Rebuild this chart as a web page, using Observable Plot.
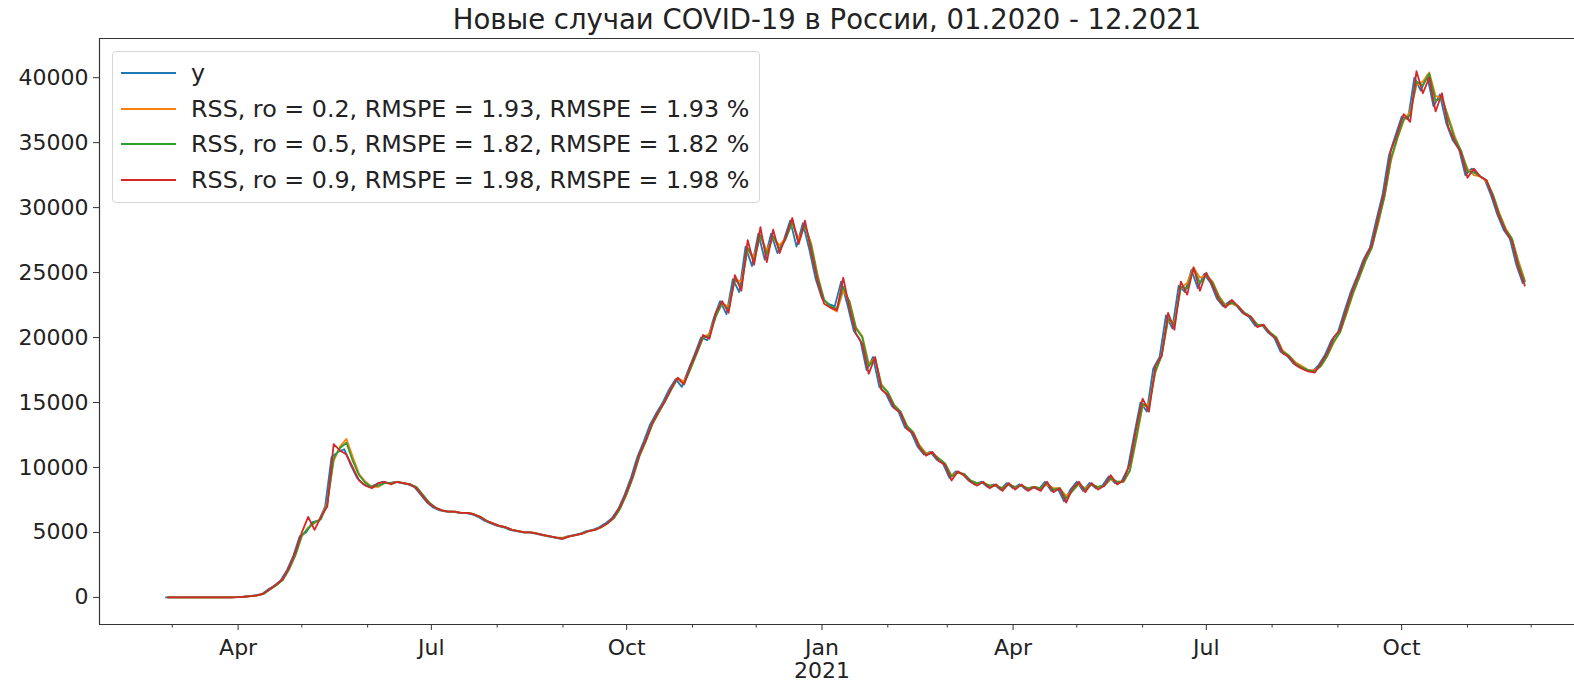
<!DOCTYPE html>
<html><head><meta charset="utf-8">
<script src="https://cdn.jsdelivr.net/npm/d3@7"></script>
<script src="https://cdn.jsdelivr.net/npm/@observablehq/plot@0.6"></script>
<style>
body{margin:0;background:#fff;}
#wrap{position:relative;width:1574px;height:686px;font-family:"DejaVu Sans",sans-serif;}
#legend{position:absolute;left:112px;top:51px;width:646px;height:150px;border:1px solid #d6d6d6;border-radius:4px;background:rgba(255,255,255,0.85);}
.row{position:absolute;left:0;height:30px;display:flex;align-items:center;font-size:23.8px;color:#222;white-space:nowrap;}
.row .h{width:55px;height:2px;margin-left:8px;margin-right:15px;}
</style></head>
<body><div id="wrap"><div id="legend"></div></div>
<script>
// ---- data (values every 3 days) ----
const startActual = "2020-02-27";
const startModels = "2020-02-28";
const stepDays = 3;

const yActual = [
0,0,0,0,0,0,0,0,0,0,
10,20,50,100,150,250,600,900,1300,2100,
3200,4700,5000,5800,5900,7000,10800,11200,11400,10200,
9200,8700,8500,8700,8900,8800,8900,8800,8700,8500,
7900,7300,6900,6700,6600,6600,6500,6500,6400,6200,
5900,5700,5500,5400,5200,5100,5000,5000,4900,4800,
4700,4600,4500,4700,4800,4900,5100,5200,5400,5700,
6100,6800,7900,9200,10800,12000,13300,14200,15000,16000,
16800,16200,17500,18700,20000,19800,21500,22800,21800,24500,
23500,27000,25500,28000,26000,28000,26500,27500,29000,27000,
28800,26800,24500,23000,22600,22400,24300,22500,20500,19800,
17500,18500,16200,15700,14700,14300,13100,12700,11600,11000,
11200,10600,10300,9200,9700,9500,9000,8700,8900,8500,
8700,8300,8800,8400,8700,8300,8500,8300,8900,8200,
8400,7400,8300,8900,8200,8800,8400,8600,9300,8800,
8900,9900,12500,15000,14300,17600,18500,21700,20700,24000,
23500,25200,23800,24900,24200,23000,22400,22800,22500,21900,
21600,20900,21000,20400,20000,18900,18600,18000,17700,17500,
17400,17900,18700,19800,20400,22000,23500,24700,26000,26900,
29000,31000,34000,35500,37000,36800,40000,39000,40200,37800,
38700,36500,35200,34500,32500,33000,32500,32200,31000,29500,
28300,27600,25600,24200];

const predRo02 = [
0,0,0,0,0,0,0,0,0,0,
10,20,50,100,150,280,620,950,1350,2200,
3300,4700,5400,5700,6100,7300,10500,11600,12200,10800,
9500,8900,8500,8500,8800,8800,8900,8800,8700,8500,
7900,7300,6900,6700,6600,6600,6500,6500,6400,6200,
5900,5700,5500,5400,5200,5100,5000,5000,4900,4800,
4700,4600,4600,4700,4800,4900,5100,5200,5400,5700,
6100,6900,8000,9300,10900,12000,13300,14200,15100,16000,
16900,16600,17600,18800,20000,20300,21700,22600,22400,24500,
24300,26800,26200,27800,26700,27700,27100,27700,28800,27600,
28600,27200,24800,22900,22300,22000,23600,22800,20800,20100,
18000,18400,16400,15800,14800,14300,13200,12700,11700,11100,
11100,10700,10300,9400,9600,9400,9000,8800,8800,8600,
8600,8400,8700,8500,8600,8400,8500,8400,8700,8400,
8400,7800,8200,8700,8400,8700,8500,8600,9100,8900,
8900,9700,12100,14700,14900,17300,18700,21300,21200,23800,
24200,25400,24600,24800,24300,23200,22500,22600,22400,21900,
21600,21000,20900,20400,20000,19000,18600,18100,17800,17500,
17500,17800,18600,19600,20400,21800,23300,24600,25900,27000,
28800,30900,33600,35300,36700,37400,39400,39700,40400,38600,
38400,37000,35500,34300,33000,32500,32400,32000,31000,29600,
28400,27600,25900,24400];

const predRo05 = [
0,0,0,0,0,0,0,0,0,0,
10,20,50,100,150,270,610,930,1330,2150,
3250,4750,5300,5800,6000,7200,10700,11500,11900,10500,
9400,8800,8500,8600,8800,8800,8900,8800,8700,8500,
7900,7300,6900,6700,6600,6600,6500,6500,6400,6200,
5900,5700,5500,5400,5200,5100,5000,5000,4900,4800,
4700,4600,4550,4700,4800,4900,5100,5200,5400,5700,
6100,6850,7950,9250,10850,12000,13300,14200,15050,16000,
16850,16400,17550,18750,20000,20100,21600,22700,22100,24500,
23900,26900,25900,27900,26400,27800,26800,27600,28900,27300,
28700,27000,24600,22900,22400,22200,23900,22700,20700,20000,
17800,18400,16300,15800,14800,14300,13200,12700,11600,11000,
11100,10700,10300,9300,9600,9500,9000,8800,8800,8600,
8600,8400,8700,8500,8600,8400,8500,8400,8800,8300,
8400,7600,8200,8800,8300,8700,8500,8600,9200,8900,
8900,9800,12300,14900,14600,17400,18600,21500,21000,23900,
23800,25300,24200,24800,24200,23100,22400,22700,22400,21900,
21600,21000,20900,20400,20000,18900,18600,18000,17700,17500,
17400,17800,18600,19700,20400,21900,23400,24600,25900,26900,
28900,30900,33800,35400,36800,37100,39700,39400,40300,38200,
38500,36800,35300,34400,32800,32700,32400,32100,31000,29500,
28300,27600,25700,24300];

const predRo09 = [
0,0,0,0,0,0,0,0,0,0,
10,20,50,100,160,300,650,1000,1400,2300,
3500,5000,6200,5200,6200,7000,11800,11300,11000,10000,
9000,8600,8400,8800,8900,8700,8900,8800,8700,8400,
7800,7200,6900,6700,6600,6600,6500,6500,6400,6200,
5900,5700,5500,5400,5200,5100,5000,5000,4900,4800,
4700,4600,4500,4700,4800,4900,5100,5200,5400,5700,
6200,7000,8100,9400,11000,12100,13400,14300,15100,16100,
16900,16400,17800,18900,20200,19900,21900,22800,21900,24800,
23600,27500,25600,28500,25800,28300,26500,27800,29200,27200,
29000,26500,24300,22600,22300,22100,24600,22200,20300,19500,
17200,18500,16000,15600,14600,14200,13000,12600,11500,10900,
11200,10500,10200,9000,9700,9400,8900,8600,8900,8400,
8700,8200,8800,8300,8700,8200,8500,8200,8900,8100,
8400,7300,8400,8900,8100,8800,8300,8600,9400,8700,
9000,10300,13000,15300,14300,17800,18600,21900,20600,24300,
23300,25400,23600,25000,24000,22900,22300,22900,22400,21800,
21600,20800,21000,20300,19900,18800,18500,17900,17600,17400,
17300,18000,18800,20000,20600,22200,23700,24900,26200,27100,
29300,31300,34400,35700,37200,36600,40500,38800,40000,37400,
38800,36200,35100,34200,32300,33000,32400,32100,30800,29300,
28200,27400,25400,24000];

const seriesNames = ["y",
  "RSS, ro = 0.2, RMSPE = 1.93, RMSPE = 1.93 %",
  "RSS, ro = 0.5, RMSPE = 1.82, RMSPE = 1.82 %",
  "RSS, ro = 0.9, RMSPE = 1.98, RMSPE = 1.98 %"];
const seriesColors = ["#1f77b4", "#ff7f0e", "#2ca02c", "#d62728"];
const titleText = "Новые случаи COVID-19 в России, 01.2020 - 12.2021";
const yTicks = [0, 5000, 10000, 15000, 20000, 25000, 30000, 35000, 40000];
const majorTicks = ["2020-04-01","2020-07-01","2020-10-01","2021-01-01","2021-04-01","2021-07-01","2021-10-01"];
const majorLabels = ["Apr","Jul","Oct","Jan\n2021","Apr","Jul","Oct"];
const minorTicks = ["2020-03-01","2020-05-01","2020-06-01","2020-08-01","2020-09-01","2020-11-01","2020-12-01",
  "2021-02-01","2021-03-01","2021-05-01","2021-06-01","2021-08-01","2021-09-01","2021-11-01","2021-12-01"];

// ---- build ----
const toRows = (start, vals) => {
  const s = new Date(start + "T00:00:00Z");
  return vals.map((v, i) => ({date: d3.utcDay.offset(s, i * stepDays), value: v}));
};
const allSeries = [
  toRows(startActual, yActual),
  toRows(startModels, predRo02),
  toRows(startModels, predRo05),
  toRows(startModels, predRo09)
];
const majorDates = majorTicks.map(d => new Date(d + "T00:00:00Z"));
const minorDates = minorTicks.map(d => new Date(d + "T00:00:00Z"));
const labelOf = new Map(majorDates.map((d, i) => [+d, majorLabels[i]]));

const xDomain = [new Date(Date.UTC(2020, 0, 26, 17)), new Date(Date.UTC(2021, 11, 21, 10))];
const yDomain = [-2085, 43015];
const axisColor = "#333";

const chart = Plot.plot({
  width: 1574,
  height: 686,
  marginLeft: 99,
  marginRight: 0,
  marginTop: 38,
  marginBottom: 62,
  style: {fontFamily: "DejaVu Sans, sans-serif", fontSize: "22px", color: "#222", background: "white", overflow: "visible"},
  x: {type: "utc", domain: xDomain},
  y: {domain: yDomain},
  marks: [
    Plot.ruleX([xDomain[0]], {stroke: axisColor, strokeWidth: 1.2}),
    Plot.ruleY([yDomain[0]], {stroke: axisColor, strokeWidth: 1.2}),
    Plot.ruleY([yDomain[1]], {stroke: axisColor, strokeWidth: 1.2}),
    Plot.axisY({ticks: yTicks, tickFormat: d => String(d), tickSize: 6, tickPadding: 5, fontSize: 22, label: null, stroke: axisColor}),
    Plot.axisX({ticks: majorDates, tickFormat: d => labelOf.get(+d), tickSize: 6, tickPadding: 8, fontSize: 22, label: null, stroke: axisColor, lineHeight: 1.05}),
    Plot.axisX({ticks: minorDates, tickFormat: () => "", tickSize: 3.5, label: null, stroke: axisColor}),
    ...allSeries.map((rows, k) => Plot.lineY(rows, {x: "date", y: "value", stroke: seriesColors[k], strokeWidth: 1.8})),
    Plot.text([titleText], {frameAnchor: "top", lineAnchor: "middle", dy: -18, dx: -10, fontSize: 27.5, fill: "#222"})
  ]
});
document.getElementById("wrap").prepend(chart);

// legend
const legend = document.getElementById("legend");
const rowTops = [6, 42, 77, 113];
seriesNames.forEach((name, k) => {
  const row = document.createElement("div");
  row.className = "row";
  row.style.top = rowTops[k] + "px";
  const h = document.createElement("span");
  h.className = "h";
  h.style.background = seriesColors[k];
  const t = document.createElement("span");
  t.textContent = name;
  row.append(h, t);
  legend.append(row);
});
</script>
</body></html>
